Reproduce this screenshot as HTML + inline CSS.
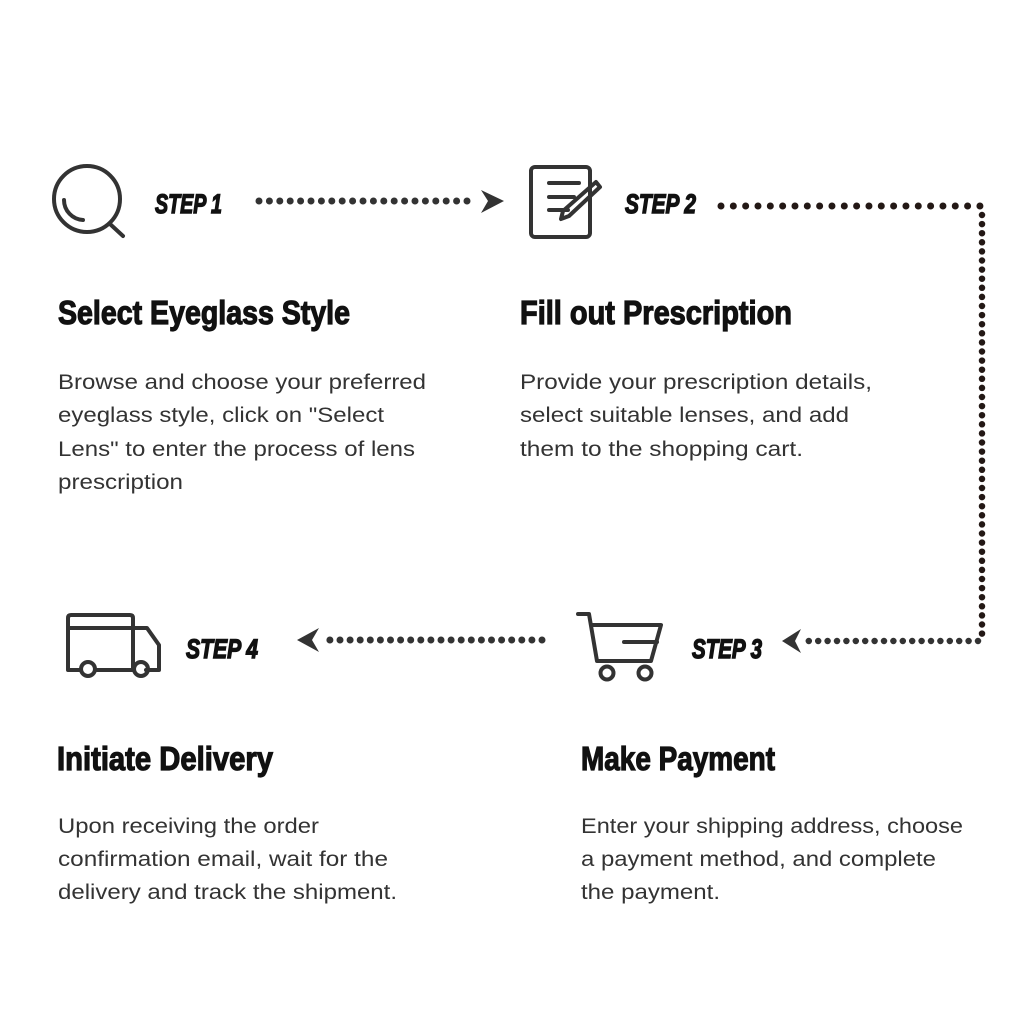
<!DOCTYPE html>
<html><head><meta charset="utf-8"><style>
html,body{margin:0;padding:0;background:#fff;width:1024px;height:1024px;overflow:hidden}
svg{display:block}
.h{font-family:"Liberation Sans",sans-serif;font-weight:bold;font-size:33px;fill:#111;stroke:#111;stroke-width:1.2}
.s{font-family:"Liberation Sans",sans-serif;font-weight:bold;font-style:italic;font-size:27px;fill:#111;stroke:#111;stroke-width:1.4}
.b{font-family:"Liberation Sans",sans-serif;font-size:21px;fill:#333}
</style></head><body>
<svg width="1024" height="1024" viewBox="0 0 1024 1024" xmlns="http://www.w3.org/2000/svg">
<g fill="none" stroke="#333" stroke-width="4" stroke-linecap="round" stroke-linejoin="round">
 <circle cx="87" cy="199" r="33"/>
 <path d="M110 224 L123 236"/>
 <path d="M64 200 A20 20 0 0 0 83 220"/>
 <rect x="531" y="167" width="59" height="70" rx="4"/>
 <path d="M549 183 H579 M549 197 H574 M549 210 H568"/>
 <path d="M596 182 L600 187 L569 216 L561 219 L563 211 Z"/>
 <path d="M80 670 H68 V618 Q68 615 71 615 H130 Q133 615 133 618 V670 H97"/>
 <path d="M68 628 H133"/>
 <path d="M133 628 H147 L159 645 V670 H146 M130 670 H116"/>
 <circle cx="88" cy="669" r="7"/>
 <circle cx="141" cy="669" r="7"/>
 <path d="M578 614 H589 L597 661 H651 L661 625 H591"/>
 <path d="M624 642 H657"/>
 <circle cx="607" cy="673" r="6.5"/>
 <circle cx="645" cy="673" r="6.5"/>
</g>
<g fill="none" stroke-linecap="round">
 <line x1="259" y1="201" x2="477" y2="201" stroke="#333" stroke-width="7" stroke-dasharray="0 10.4"/>
 <line x1="721" y1="206" x2="980" y2="206" stroke="#231815" stroke-width="7" stroke-dasharray="0 12.33"/>
 <line x1="982" y1="215" x2="982" y2="634" stroke="#231815" stroke-width="6.5" stroke-dasharray="0 9.1"/>
 <line x1="978" y1="641" x2="800" y2="641" stroke="#333" stroke-width="6.5" stroke-dasharray="0 9.4"/>
 <line x1="542" y1="640" x2="320" y2="640" stroke="#333" stroke-width="7" stroke-dasharray="0 10.1"/>
</g>
<g fill="#333">
 <path d="M481 190 L504 201 L481 213 L488 201 Z"/>
 <path d="M801 629 L782 641 L801 653 L795 641 Z"/>
 <path d="M319 628 L297 640 L319 652 L312 640 Z"/>
</g>
<text class="s" x="155" y="213" textLength="67" lengthAdjust="spacingAndGlyphs">STEP 1</text>
<text class="s" x="625" y="213" textLength="71" lengthAdjust="spacingAndGlyphs">STEP 2</text>
<text class="s" x="692" y="658" textLength="70" lengthAdjust="spacingAndGlyphs">STEP 3</text>
<text class="s" x="186" y="658" textLength="72" lengthAdjust="spacingAndGlyphs">STEP 4</text>

<text class="h" x="58" y="324" textLength="292" lengthAdjust="spacingAndGlyphs">Select Eyeglass Style</text>
<text class="h" x="520" y="324" textLength="272" lengthAdjust="spacingAndGlyphs">Fill out Prescription</text>
<text class="h" x="57" y="770" textLength="216" lengthAdjust="spacingAndGlyphs">Initiate Delivery</text>
<text class="h" x="581" y="770" textLength="194" lengthAdjust="spacingAndGlyphs">Make Payment</text>

<text class="b" x="58" y="389" textLength="368" lengthAdjust="spacingAndGlyphs">Browse and choose your preferred</text>
<text class="b" x="58" y="422" textLength="326" lengthAdjust="spacingAndGlyphs">eyeglass style, click on "Select</text>
<text class="b" x="58" y="456" textLength="357" lengthAdjust="spacingAndGlyphs">Lens" to enter the process of lens</text>
<text class="b" x="58" y="489" textLength="125" lengthAdjust="spacingAndGlyphs">prescription</text>

<text class="b" x="520" y="389" textLength="352" lengthAdjust="spacingAndGlyphs">Provide your prescription details,</text>
<text class="b" x="520" y="422" textLength="329" lengthAdjust="spacingAndGlyphs">select suitable lenses, and add</text>
<text class="b" x="520" y="456" textLength="283" lengthAdjust="spacingAndGlyphs">them to the shopping cart.</text>

<text class="b" x="58" y="833" textLength="261" lengthAdjust="spacingAndGlyphs">Upon receiving the order</text>
<text class="b" x="58" y="866" textLength="330" lengthAdjust="spacingAndGlyphs">confirmation email, wait for the</text>
<text class="b" x="58" y="899" textLength="339" lengthAdjust="spacingAndGlyphs">delivery and track the shipment.</text>

<text class="b" x="581" y="833" textLength="382" lengthAdjust="spacingAndGlyphs">Enter your shipping address, choose</text>
<text class="b" x="581" y="866" textLength="355" lengthAdjust="spacingAndGlyphs">a payment method, and complete</text>
<text class="b" x="581" y="899" textLength="139" lengthAdjust="spacingAndGlyphs">the payment.</text>
</svg>
</body></html>
